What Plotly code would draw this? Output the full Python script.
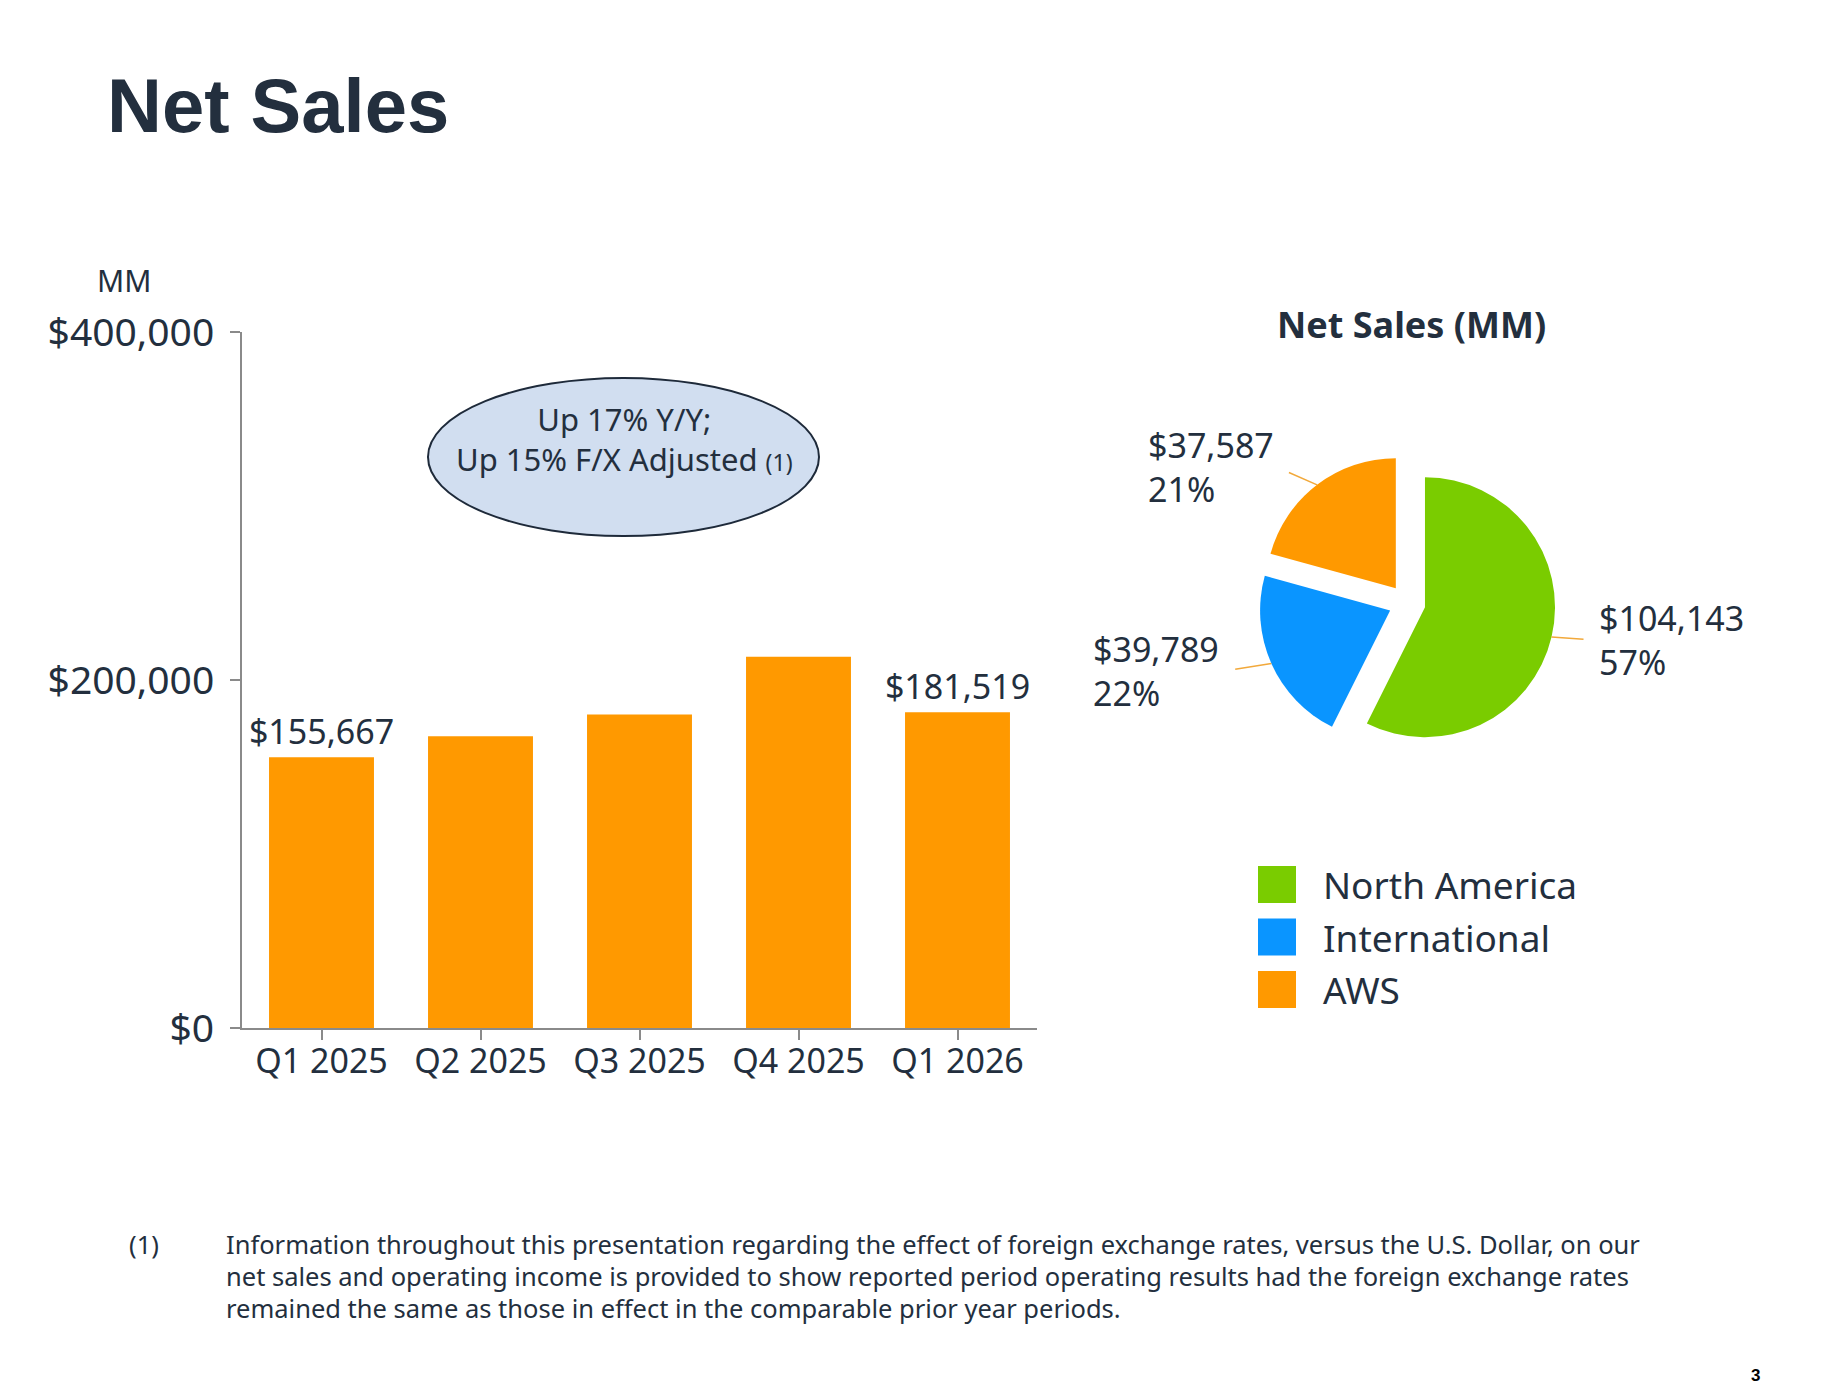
import math
import plotly.graph_objects as go

# bar chart data (MM)
quarters = ["Q1 2025", "Q2 2025", "Q3 2025", "Q4 2025", "Q1 2026"]
net_sales = [155667, 167702, 180169, 213386, 181519]
y_ticks = [0, 200000, 400000]
y_tick_labels = [f"${v:,}" for v in y_ticks]

# pie data (MM), Q1 2026
segments = ["North America", "International", "AWS"]
segment_sales = [104143, 39789, 37587]
segment_colors = ["#7ACC00", "#0A95FF", "#FF9900"]

footnote_lines = [
    "Information throughout this presentation regarding the effect of foreign exchange rates, "
    "versus the U.S. Dollar, on our",
    "net sales and operating income is provided to show reported period operating results had "
    "the foreign exchange rates",
    "remained the same as those in effect in the comparable prior year periods.",
]

W, H = 1826, 1392
OFF = 8  # page body margin
NAVY = "#232F3E"
FONT = "Noto Sans"


def px(x):
    return (x - OFF) / W


def py(y):
    return 1 - (y - OFF) / H


# only the first and last bars carry a value label
bar_text = [f"${v:,}" if i in (0, len(net_sales) - 1) else "" for i, v in enumerate(net_sales)]

fig = go.Figure()
fig.add_trace(go.Bar(
    x=quarters, y=net_sales, text=bar_text, textposition="outside",
    constraintext="none", cliponaxis=False,
    textfont=dict(family=FONT, size=34, color=NAVY),
    marker=dict(color="#FF9900", line=dict(width=0)),
    showlegend=False, hoverinfo="x+y",
))

# pie
pull = 0.142
pie_cx, pie_cy, pie_box = 1407, 603, 297
fig.add_trace(go.Pie(
    labels=segments, values=segment_sales, sort=False, direction="clockwise",
    rotation=0, pull=pull, textinfo="none", showlegend=False,
    marker=dict(colors=segment_colors, line=dict(width=0)),
    domain=dict(x=[px(pie_cx - pie_box / 2), px(pie_cx + pie_box / 2)],
                y=[py(pie_cy + pie_box / 2), py(pie_cy - pie_box / 2)]),
))

fig.update_layout(
    width=W, height=H, margin=dict(l=0, r=0, t=0, b=0, pad=0, autoexpand=False),
    paper_bgcolor="white", plot_bgcolor="white",
    font=dict(family=FONT, color=NAVY),
    bargap=0.34,
    xaxis=dict(domain=[px(242), px(1037)], showline=True, linecolor="#8A8A8A", linewidth=2,
               ticks="outside", ticklen=10, tickwidth=2, tickcolor="#8A8A8A",
               tickfont=dict(size=34, color=NAVY), ticklabelstandoff=-8,
               showgrid=False, zeroline=False, fixedrange=True, automargin=False),
    yaxis=dict(domain=[py(1028), py(332)], range=[0, 400000], tickvals=y_ticks,
               ticktext=y_tick_labels, showline=True, linecolor="#8A8A8A",
               linewidth=2, ticks="outside", ticklen=10, tickwidth=2, tickcolor="#8A8A8A",
               tickfont=dict(size=39, color=NAVY), ticklabelstandoff=8,
               showgrid=False, zeroline=False, fixedrange=True, automargin=False),
)

ann = []
# page title
ann.append(dict(text="<b>Net Sales</b>", x=px(105), y=py(106), xanchor="left", yanchor="middle",
                font=dict(family="Liberation Sans", size=76, color=NAVY)))
ann.append(dict(text="MM", x=px(124), y=py(281), xanchor="center", yanchor="middle",
                font=dict(size=30, color=NAVY)))

# callout bubble
fig.add_shape(type="circle", xref="paper", yref="paper",
              x0=px(428), x1=px(819), y0=py(536), y1=py(378),
              fillcolor="#D1DEF0", line=dict(color="#1E2A3A", width=2), layer="above")
ann.append(dict(text="Up 17% Y/Y;<br>Up 15% F/X Adjusted <span style='font-size:23px'>(1)</span>",
                x=px(624), y=py(439), xanchor="center", yanchor="middle",
                font=dict(size=31, color=NAVY)))

# pie title
ann.append(dict(text="<b>Net Sales (MM)</b>", x=px(1411), y=py(324), xanchor="center",
                yanchor="middle", font=dict(size=36, color=NAVY)))

# pie labels with leader lines
total = sum(segment_sales)
R = 130 * (1 + pull)
label_pos = [(46, 3, "left"), (-50, 8, "right"), (-41, -18, "right")]
cum = 0
for val, (ax, ay, xa) in zip(segment_sales, label_pos):
    frac = val / total
    theta = math.radians(360 * (cum + frac / 2))
    cum += frac
    ann.append(dict(
        text=f"${val:,}<br>{round(frac * 100)}%", align="left",
        x=px(pie_cx + R * math.sin(theta)), y=py(pie_cy - R * math.cos(theta)),
        ax=ax, ay=ay, xanchor=xa, yanchor="middle",
        showarrow=True, arrowhead=0, arrowwidth=1.5, arrowcolor="#F2A93B",
        startstandoff=14, font=dict(size=34, color=NAVY)))

# legend
for i, (name, col) in enumerate(zip(segments, segment_colors)):
    top = 866 + i * 52.5
    fig.add_shape(type="rect", xref="paper", yref="paper", x0=px(1258), x1=px(1296),
                  y0=py(top + 37), y1=py(top), fillcolor=col, line=dict(width=0))
    ann.append(dict(text=name, x=px(1321), y=py(top + 18.5), xanchor="left", yanchor="middle",
                    font=dict(size=37, color=NAVY)))

# footnote
ann.append(dict(text="(1)", x=px(127), y=py(1244), xanchor="left", yanchor="middle",
                font=dict(size=25.5, color=NAVY)))
for i, line in enumerate(footnote_lines):
    ann.append(dict(text=line, x=px(224), y=py(1244 + i * 32), xanchor="left", yanchor="middle",
                    font=dict(size=25.5, color=NAVY)))
ann.append(dict(text="<b>3</b>", x=px(1755), y=py(1375), xanchor="center", yanchor="middle",
                font=dict(family="Liberation Sans", size=17, color="black")))

for a in ann:
    a.setdefault("showarrow", False)
    a.setdefault("xref", "paper")
    a.setdefault("yref", "paper")
fig.update_layout(annotations=ann)

fig.write_html("out.html")
